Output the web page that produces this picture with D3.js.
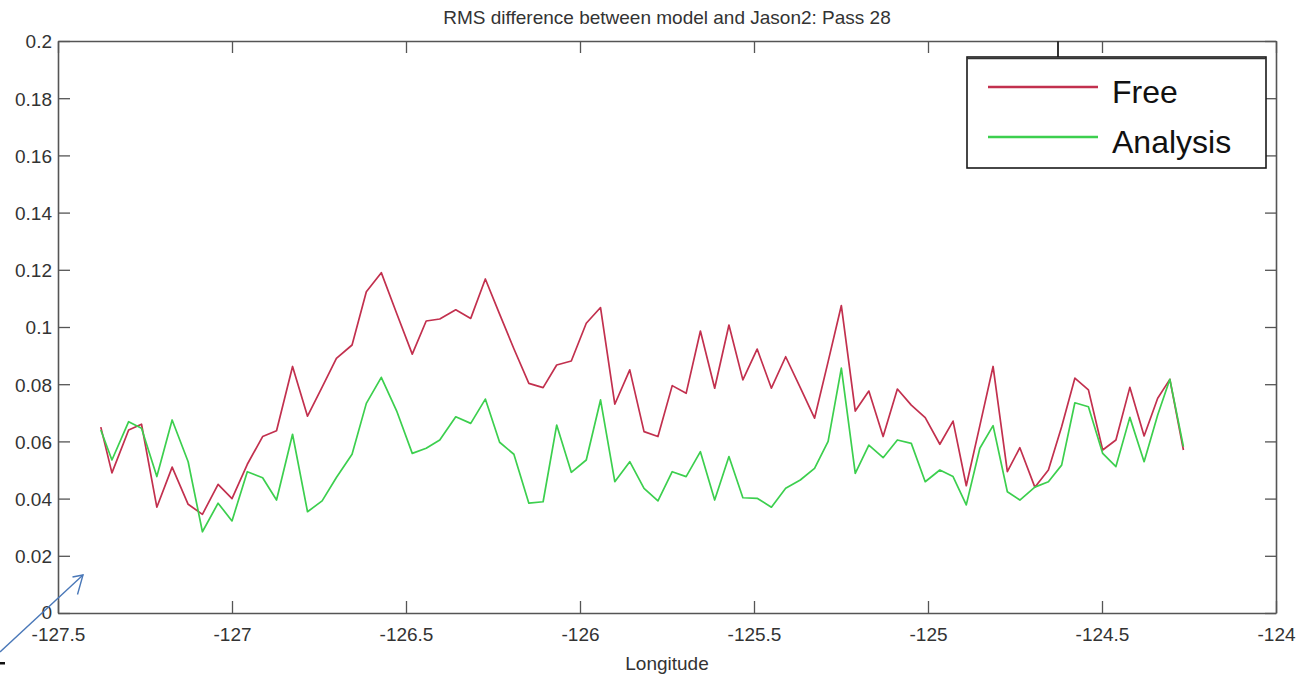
<!DOCTYPE html>
<html>
<head>
<meta charset="utf-8">
<script src="https://cdn.jsdelivr.net/npm/d3@7"></script>
<style>
  html, body { margin: 0; padding: 0; background: #fff; }
  svg { display: block; font-family: "Liberation Sans", Arial, Helvetica, sans-serif; }
</style>
</head>
<body>
<svg id="chart" width="1307" height="676"></svg>
<script>
// Along-track longitude of each comparison point (degrees)
const longitude = [
  -127.377, -127.345, -127.297, -127.260, -127.216, -127.172, -127.126, -127.085, -127.040, -127.000,
  -126.956, -126.912, -126.872, -126.826, -126.783, -126.741, -126.700, -126.655, -126.614, -126.571,
  -126.527, -126.482, -126.442, -126.403, -126.357, -126.314, -126.272, -126.231, -126.190, -126.147,
  -126.106, -126.067, -126.025, -125.982, -125.941, -125.900, -125.857, -125.816, -125.776, -125.735,
  -125.695, -125.654, -125.613, -125.572, -125.532, -125.491, -125.450, -125.409, -125.367, -125.326,
  -125.287, -125.249, -125.209, -125.170, -125.129, -125.088, -125.048, -125.008, -124.966, -124.928,
  -124.890, -124.851, -124.813, -124.772, -124.736, -124.693, -124.654, -124.616, -124.578, -124.539,
  -124.498, -124.460, -124.420, -124.379, -124.340, -124.305, -124.266
];

// RMS difference, free-running model
const freeRms = [
  0.065, 0.049, 0.064, 0.066, 0.037, 0.051, 0.038, 0.0345, 0.045, 0.040,
  0.052, 0.0617, 0.0637, 0.0862, 0.0688, 0.079, 0.089, 0.0937, 0.1123, 0.119,
  0.1048, 0.0905, 0.1021, 0.1028, 0.106, 0.103, 0.1168, 0.1045, 0.0924, 0.0803,
  0.0788, 0.0867, 0.0881, 0.1013, 0.1068, 0.073, 0.085, 0.0634, 0.0617, 0.0795,
  0.0768, 0.0986, 0.0786, 0.1007, 0.0815, 0.0923, 0.0786, 0.0896, 0.0788, 0.0681,
  0.0879, 0.1075, 0.0706, 0.0776, 0.0617, 0.0783, 0.0727, 0.0683, 0.059, 0.0671,
  0.0445, 0.0655, 0.0862, 0.0494, 0.0578, 0.044, 0.050, 0.0651, 0.0821, 0.078,
  0.057, 0.0605, 0.0789, 0.0619, 0.0751, 0.0817, 0.057
];

// RMS difference, assimilative (analysis) run
const analysisRms = [
  0.064, 0.0535, 0.0669, 0.0646, 0.0477, 0.0675, 0.0529, 0.0284, 0.0384, 0.0322,
  0.0494, 0.0473, 0.0395, 0.0625, 0.0354, 0.0392, 0.0474, 0.0555, 0.0733, 0.0824,
  0.0707, 0.0558, 0.0576, 0.0605, 0.0686, 0.0663, 0.0748, 0.0597, 0.0555, 0.0384,
  0.0389, 0.0657, 0.0492, 0.0535, 0.0745, 0.0459, 0.0529, 0.0436, 0.0392, 0.0494,
  0.0477, 0.0564, 0.0395, 0.0547, 0.0403, 0.0401, 0.037, 0.0436, 0.0465, 0.0506,
  0.060, 0.0856, 0.0488, 0.0587, 0.0543, 0.0605, 0.0593, 0.0459, 0.050, 0.0477,
  0.0378, 0.0576, 0.0655, 0.0424, 0.0395, 0.044, 0.0459, 0.0517, 0.0735, 0.0721,
  0.0558, 0.0512, 0.0684, 0.0529, 0.0692, 0.0817, 0.0582
];

const xTicks = [-127.5, -127, -126.5, -126, -125.5, -125, -124.5, -124];
const xTickLabels = ["-127.5", "-127", "-126.5", "-126", "-125.5", "-125", "-124.5", "-124"];
const yTicks = [0, 0.02, 0.04, 0.06, 0.08, 0.1, 0.12, 0.14, 0.16, 0.18, 0.2];
const yTickLabels = ["0", "0.02", "0.04", "0.06", "0.08", "0.1", "0.12", "0.14", "0.16", "0.18", "0.2"];

const seriesNames = ["Free", "Analysis"];
const seriesColors = ["#c2304e", "#3ccf4e"];

const svg = d3.select("#chart");
const plotLeft = 58, plotRight = 1276, plotTop = 41, plotBottom = 613;

const x = d3.scaleLinear().domain([-127.5, -124]).range([plotLeft, plotRight]);
const y = d3.scaleLinear().domain([0, 0.2]).range([plotBottom, plotTop]);

const axisColor = "#555";
const tickLen = 12;
const labelSize = 19;

// Boxed axes with inward ticks on all four sides
const gBottom = svg.append("g").attr("transform", `translate(0,${plotBottom})`)
  .call(d3.axisBottom(x).tickValues(xTicks).tickSizeInner(-tickLen).tickSizeOuter(0)
    .tickFormat((d, i) => xTickLabels[i]));
const gTop = svg.append("g").attr("transform", `translate(0,${plotTop})`)
  .call(d3.axisTop(x).tickValues(xTicks).tickSizeInner(-tickLen).tickSizeOuter(0).tickFormat(""));
const gLeft = svg.append("g").attr("transform", `translate(${plotLeft},0)`)
  .call(d3.axisLeft(y).tickValues(yTicks).tickSizeInner(-tickLen).tickSizeOuter(0)
    .tickFormat((d, i) => yTickLabels[i]));
const gRight = svg.append("g").attr("transform", `translate(${plotRight},0)`)
  .call(d3.axisRight(y).tickValues(yTicks).tickSizeInner(-tickLen + 1).tickSizeOuter(0).tickFormat(""));

[gBottom, gTop, gLeft, gRight].forEach(g => {
  g.select(".domain").attr("stroke", axisColor).attr("stroke-width", 1.6);
  g.selectAll(".tick line").attr("stroke", axisColor).attr("stroke-width", 1.3);
});

gBottom.selectAll(".tick text")
  .attr("y", 28).attr("dy", 0)
  .attr("font-size", labelSize).attr("fill", "#333")
  .attr("font-family", "Liberation Sans, Arial, sans-serif");
gLeft.selectAll(".tick text")
  .attr("x", -6).attr("dy", "0.36em")
  .attr("font-size", labelSize).attr("fill", "#333")
  .attr("font-family", "Liberation Sans, Arial, sans-serif");
gLeft.selectAll(".tick text").filter(d => d === 0).attr("dy", "0.3em");

// Series lines
const line = d3.line()
  .x((d, i) => x(longitude[i]))
  .y(d => y(d));

[freeRms, analysisRms].forEach((vals, k) => {
  svg.append("path")
    .datum(vals)
    .attr("fill", "none")
    .attr("stroke", seriesColors[k])
    .attr("stroke-width", 1.7)
    .attr("stroke-linejoin", "round")
    .attr("d", line);
});

// Title and axis label
svg.append("text")
  .attr("x", (plotLeft + plotRight) / 2).attr("y", 24)
  .attr("text-anchor", "middle")
  .attr("font-size", 19).attr("fill", "#333")
  .text("RMS difference between model and Jason2: Pass 28");

svg.append("text")
  .attr("x", (plotLeft + plotRight) / 2).attr("y", 670)
  .attr("text-anchor", "middle")
  .attr("font-size", labelSize).attr("fill", "#333")
  .text("Longitude");

// Legend
const lg = svg.append("g");
lg.append("line")
  .attr("x1", 1058).attr("x2", 1058).attr("y1", plotTop).attr("y2", 57)
  .attr("stroke", "#333").attr("stroke-width", 2);
lg.append("rect")
  .attr("x", 967).attr("y", 57).attr("width", 299).attr("height", 111)
  .attr("fill", "#fff").attr("stroke", "#1a1a1a").attr("stroke-width", 1.6);
lg.append("line")
  .attr("x1", 967).attr("x2", 1266).attr("y1", 58.5).attr("y2", 58.5)
  .attr("stroke", "#333").attr("stroke-width", 1.5);

const legendRows = [87, 137];
seriesNames.forEach((name, k) => {
  lg.append("line")
    .attr("x1", 988).attr("x2", 1098)
    .attr("y1", legendRows[k]).attr("y2", legendRows[k])
    .attr("stroke", seriesColors[k]).attr("stroke-width", 2.6);
  lg.append("text")
    .attr("x", 1112).attr("y", legendRows[k] + 16)
    .attr("font-size", 32).attr("fill", "#111")
    .text(name);
});

// Pointer arrow in the lower-left corner
const arrow = svg.append("g").attr("stroke", "#4a78b8").attr("stroke-width", 1.4).attr("fill", "none");
arrow.append("line").attr("x1", 0).attr("y1", 652).attr("x2", 83).attr("y2", 575);
arrow.append("polyline").attr("points", "72.5,577 83,575 77.5,594.5");
svg.append("rect").attr("x", 0).attr("y", 662).attr("width", 5).attr("height", 2.5).attr("fill", "#111");
</script>
</body>
</html>
